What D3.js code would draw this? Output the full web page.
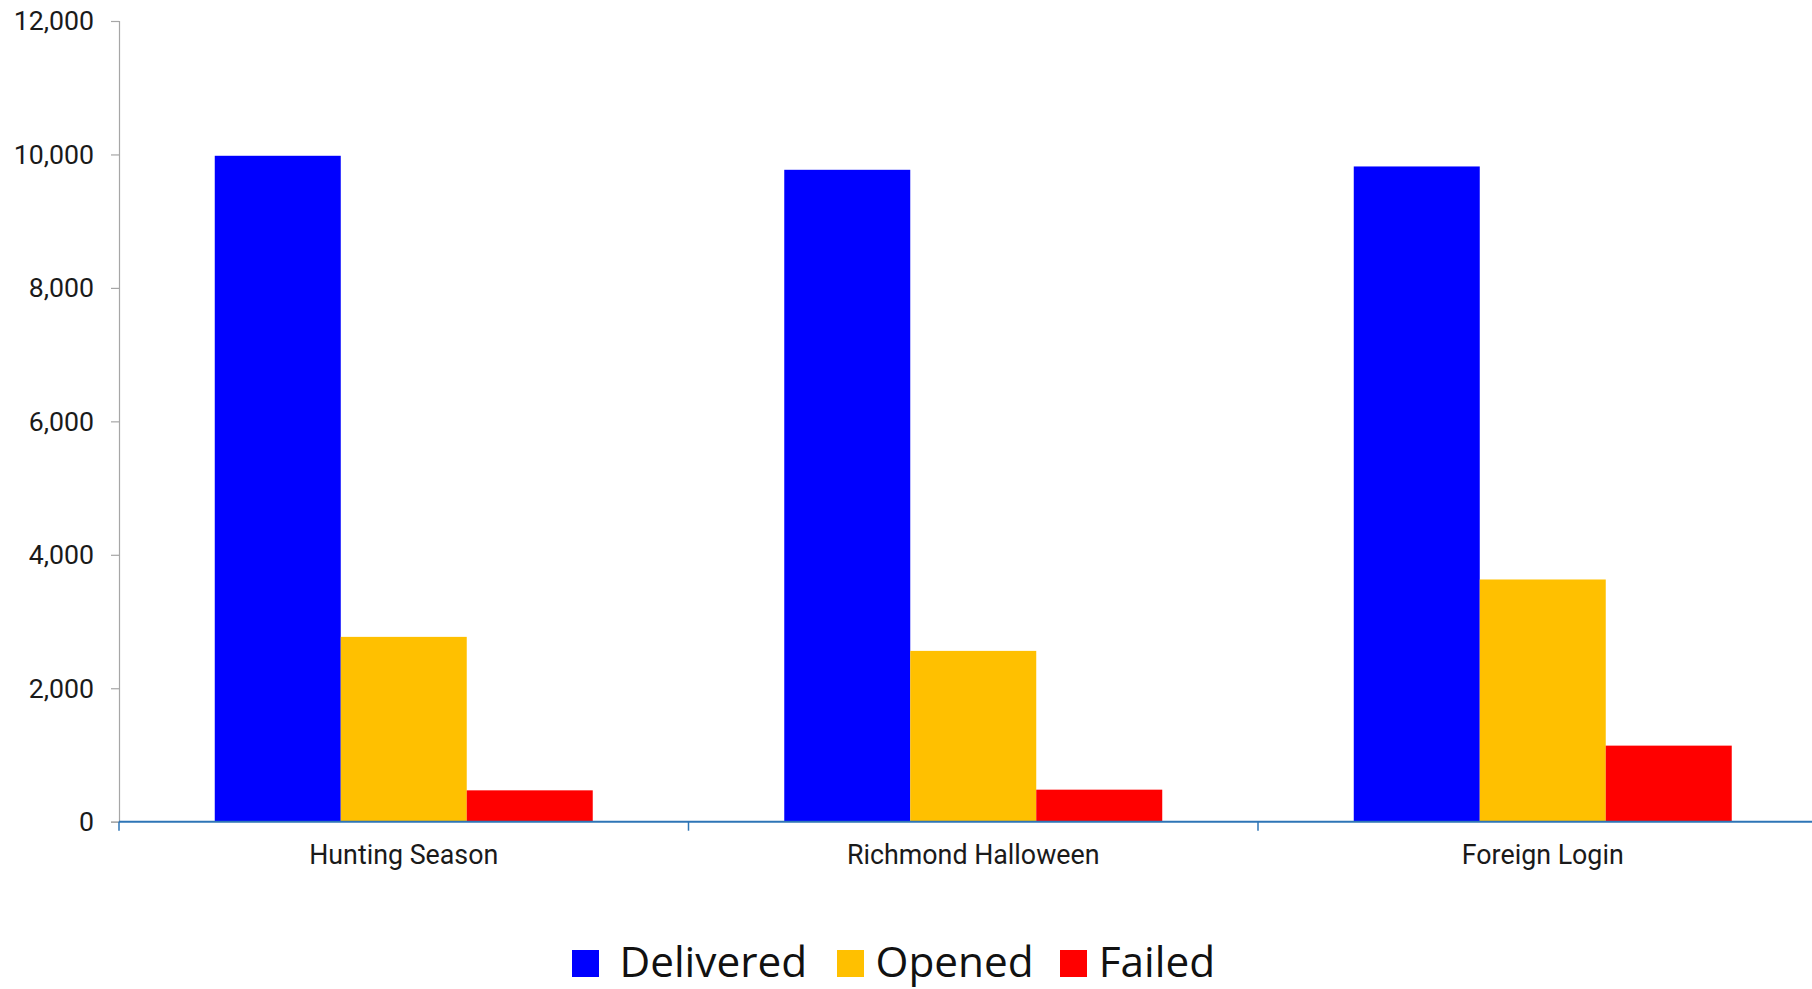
<!DOCTYPE html>
<html>
<head>
<meta charset="utf-8">
<script src="https://cdn.jsdelivr.net/npm/d3@7"></script>
<style>
  html, body { margin: 0; padding: 0; background: #ffffff; }
  svg { display: block; }
</style>
</head>
<body>
<svg id="chart" width="1812" height="989"></svg>
<script>
// Campaign names along the x axis
const categories = ["Hunting Season", "Richmond Halloween", "Foreign Login"];
// Series names (legend order)
const seriesNames = ["Delivered", "Opened", "Failed"];
// Email counts per campaign
const delivered = [9980, 9770, 9820];
const opened = [2770, 2560, 3630];
const failed = [470, 480, 1140];
// Value axis ticks
const yTicks = [0, 2000, 4000, 6000, 8000, 10000, 12000];

const seriesValues = [delivered, opened, failed];
const colors = ["#0000ff", "#ffc000", "#ff0000"];

const svg = d3.select("#chart");
const W = 1812, H = 989;

const plotLeft = 119, plotTop = 21, plotBottom = 821.7;
const bandStep = 569.5;

const x0 = d3.scaleBand()
  .domain(categories)
  .range([plotLeft, plotLeft + bandStep * categories.length])
  .paddingInner(0).paddingOuter(0);

const x1 = d3.scaleBand()
  .domain(seriesNames)
  .range([0, x0.bandwidth()])
  .paddingInner(0).paddingOuter(0.76);

const y = d3.scaleLinear().domain([0, 12000]).range([plotBottom, plotTop]);

// Bars
const groups = svg.append("g").selectAll("g")
  .data(categories)
  .join("g")
  .attr("transform", d => `translate(${x0(d)},0)`);

groups.selectAll("rect")
  .data((c, i) => seriesNames.map((s, k) => ({ s, k, v: seriesValues[k][i] })))
  .join("rect")
  .attr("x", d => x1(d.s))
  .attr("width", x1.bandwidth())
  .attr("y", d => y(d.v))
  .attr("height", d => y(0) - y(d.v))
  .attr("fill", d => colors[d.k]);

// Y axis
const yAxis = svg.append("g")
  .attr("transform", `translate(${plotLeft},0)`)
  .call(d3.axisLeft(y).tickValues(yTicks).tickFormat(d3.format(",")).tickSize(8).tickPadding(17));
yAxis.select(".domain").attr("stroke", "#a6a6a6").attr("stroke-width", 1.2);
yAxis.selectAll(".tick line").attr("stroke", "#a6a6a6").attr("stroke-width", 1.2);
yAxis.selectAll(".tick text")
  .attr("font-family", "Roboto, sans-serif")
  .attr("font-size", 26.7)
  .attr("fill", "#1a1a1a")
  .attr("dy", "0.33em");

// X axis line with boundary ticks
const xAxis = svg.append("g").attr("transform", `translate(0,${plotBottom})`);
xAxis.append("line")
  .attr("x1", plotLeft).attr("x2", W)
  .attr("y1", 0).attr("y2", 0)
  .attr("stroke", "#2e75b6").attr("stroke-width", 2);
xAxis.selectAll("line.bound")
  .data(categories)
  .join("line")
  .attr("class", "bound")
  .attr("x1", d => x0(d)).attr("x2", d => x0(d))
  .attr("y1", 0).attr("y2", 9)
  .attr("stroke", "#2e75b6").attr("stroke-width", 1.5);
xAxis.selectAll("text")
  .data(categories)
  .join("text")
  .attr("x", d => x0(d) + x0.bandwidth() / 2)
  .attr("y", 42.5)
  .attr("text-anchor", "middle")
  .attr("font-family", "Roboto, sans-serif")
  .attr("font-size", 26.8)
  .attr("fill", "#1a1a1a")
  .text(d => d);

// Legend
const legendX = [572, 837, 1060];
const legend = svg.append("g").selectAll("g")
  .data(seriesNames)
  .join("g")
  .attr("transform", (d, i) => `translate(${legendX[i]},950)`);
legend.append("rect")
  .attr("width", 27).attr("height", 27)
  .attr("fill", (d, i) => colors[i]);
legend.append("text")
  .attr("x", (d, i) => [47.5, 38.5, 38.7][i])
  .attr("y", 26.5)
  .attr("font-family", "'Open Sans', sans-serif")
  .attr("font-size", 42.3)
  .attr("fill", "#111")
  .text(d => d);
</script>
</body>
</html>
